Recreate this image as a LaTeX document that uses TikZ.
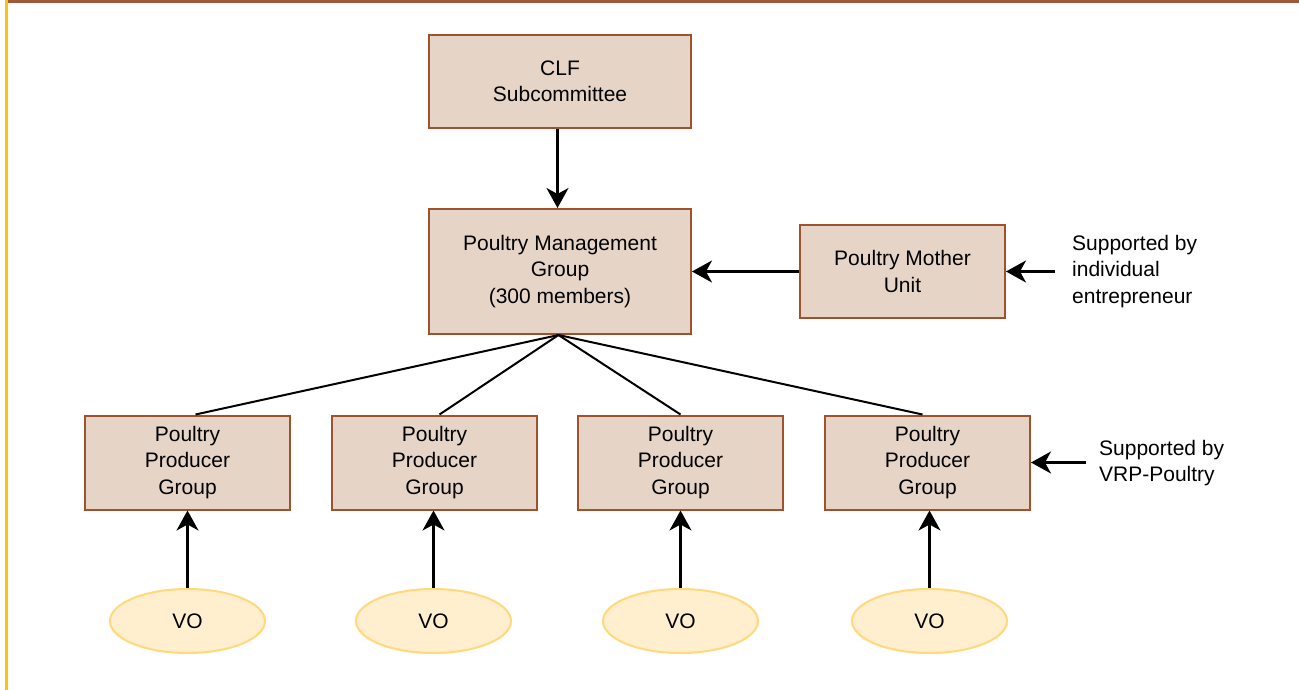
\documentclass[tikz,border=0pt]{standalone}
\usepackage{fontspec}
\setmainfont{Liberation Sans}
\usetikzlibrary{shapes.geometric,arrows.meta,calc}
\definecolor{boxfill}{HTML}{E6D4C7}
\definecolor{boxline}{HTML}{A0522D}
\definecolor{ovfill}{HTML}{FFEFCF}
\definecolor{ovline}{HTML}{FFD97A}
\definecolor{topbar}{HTML}{A0583A}
\definecolor{sidebar}{HTML}{FFC20E}
\tikzset{
  txt/.style={font=\fontsize{21}{26.5}\selectfont, align=center, text=black},
  box/.style={txt, draw=boxline, fill=boxfill, line width=2pt, inner sep=0pt},
  ppg/.style={box, minimum width=205pt, minimum height=94pt},
  vo/.style={txt, ellipse, draw=ovline, fill=ovfill, line width=2pt, minimum width=155pt, minimum height=64pt, inner sep=0pt},
  arr/.style={line width=2.4pt, -{Stealth[length=20pt,width=22pt,inset=6pt]}},
  conn/.style={line width=2pt},
  side/.style={txt, align=left, anchor=west, inner sep=0pt}
}
\begin{document}
\begin{tikzpicture}[x=1pt,y=-1pt]
\useasboundingbox (0,0) rectangle (1299,690);
\fill[white] (0,0) rectangle (1299,690);
\fill[sidebar] (4.5,0) rectangle (8,690);
\fill[topbar] (8,0) rectangle (1299,3.3);

\node[box, minimum width=262pt, minimum height=93pt] (clf) at (560,81.5) {CLF\\Subcommittee};
\node[box, minimum width=262pt, minimum height=125pt] (pmg) at (560,271.5) {Poultry Management\\Group\\(300 members)};
\node[box, minimum width=205pt, minimum height=93pt] (pmu) at (902.5,271.5) {Poultry Mother\\Unit};
\node[side] (sup1) at (1072,271.5) {Supported by\\individual\\entrepreneur};
\coordinate (s1) at (1055,271.5);

\node[ppg] (p1) at (187.5,462.5) {Poultry\\Producer\\Group};
\node[ppg] (p2) at (434.5,462.5) {Poultry\\Producer\\Group};
\node[ppg] (p3) at (680.5,462.5) {Poultry\\Producer\\Group};
\node[ppg] (p4) at (927.5,462.5) {Poultry\\Producer\\Group};
\node[side] (sup2) at (1099,463) {Supported by\\VRP-Poultry};
\coordinate (s2) at (1086,462.5);

\node[vo] (v1) at (187.5,621) {VO};
\node[vo] (v2) at (433.5,621) {VO};
\node[vo] (v3) at (680.5,621) {VO};
\node[vo] (v4) at (929.5,621) {VO};

\draw[arr] (clf.south -| 557.5,0) -- (pmg.north -| 557.5,0);
\draw[arr] (pmu.west) -- (pmg.east);
\draw[arr] (s1) -- (pmu.east);
\draw[arr] (s2) -- (p4.east);

\coordinate (hub) at ($(pmg.south)+(-1.5,0)$);
\draw[conn] (hub) -- ($(p1.north)+(8,0)$);
\draw[conn] (hub) -- ($(p2.north)+(5,0)$);
\draw[conn] (hub) -- (p3.north);
\draw[conn] (hub) -- ($(p4.north)+(-5,0)$);

\draw[arr] (v1.north) -- (v1.north |- p1.south);
\draw[arr] (v2.north) -- (v2.north |- p2.south);
\draw[arr] (v3.north) -- (v3.north |- p3.south);
\draw[arr] (v4.north) -- (v4.north |- p4.south);
\end{tikzpicture}
\end{document}
